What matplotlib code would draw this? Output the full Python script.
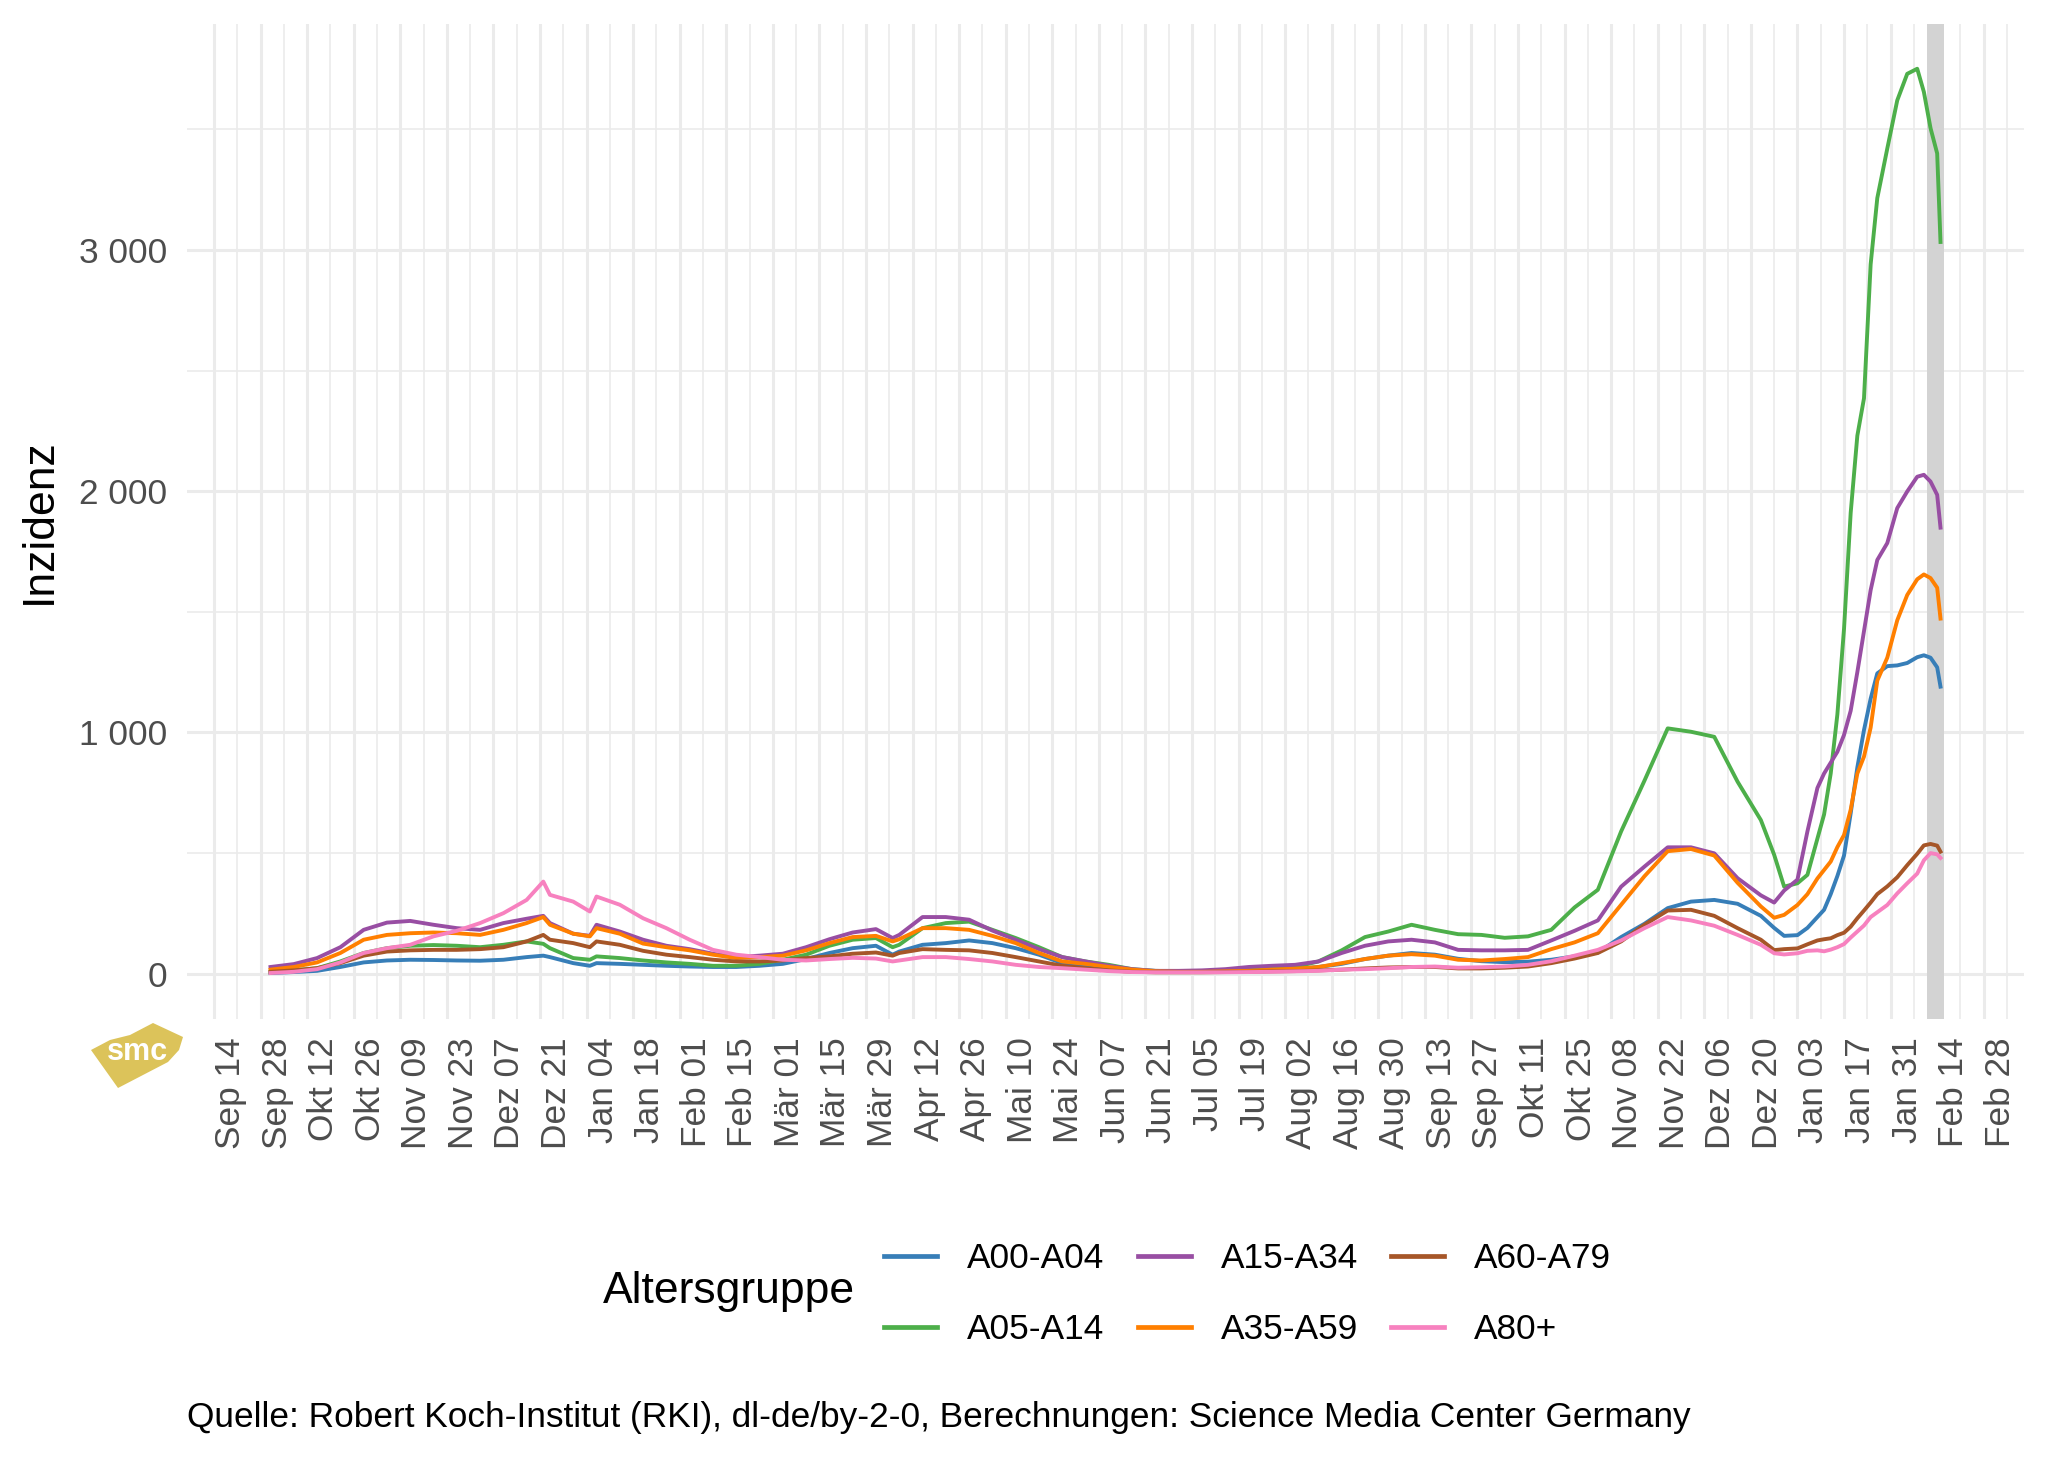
import pandas as pd
import matplotlib
matplotlib.use("Agg")
import matplotlib.pyplot as plt
from matplotlib.patches import Polygon
from matplotlib.lines import Line2D

# --- Data: 7-day incidence per age group ---
dates = [
    "2020-10-01", "2020-10-08", "2020-10-15", "2020-10-22", "2020-10-29", "2020-11-05",
    "2020-11-12", "2020-11-19", "2020-11-26", "2020-12-03", "2020-12-10", "2020-12-17",
    "2020-12-22", "2020-12-24", "2020-12-31", "2021-01-05", "2021-01-07", "2021-01-14",
    "2021-01-21", "2021-01-28", "2021-02-04", "2021-02-11", "2021-02-18", "2021-02-25",
    "2021-03-04", "2021-03-11", "2021-03-18", "2021-03-25", "2021-04-01", "2021-04-06",
    "2021-04-08", "2021-04-15", "2021-04-22", "2021-04-29", "2021-05-06", "2021-05-13",
    "2021-05-20", "2021-05-27", "2021-06-03", "2021-06-10", "2021-06-17", "2021-06-24",
    "2021-07-01", "2021-07-08", "2021-07-15", "2021-07-22", "2021-07-29", "2021-08-05",
    "2021-08-12", "2021-08-19", "2021-08-26", "2021-09-02", "2021-09-09", "2021-09-16",
    "2021-09-23", "2021-09-30", "2021-10-07", "2021-10-14", "2021-10-21", "2021-10-28",
    "2021-11-04", "2021-11-11", "2021-11-18", "2021-11-25", "2021-12-02", "2021-12-09",
    "2021-12-16", "2021-12-23",
    # omicron wave, denser
    "2021-12-27", "2021-12-30", "2022-01-03", "2022-01-06", "2022-01-09", "2022-01-11",
    "2022-01-13", "2022-01-15", "2022-01-17", "2022-01-19", "2022-01-21", "2022-01-23",
    "2022-01-25", "2022-01-27", "2022-01-30", "2022-02-02", "2022-02-05", "2022-02-08",
    "2022-02-10", "2022-02-12", "2022-02-14", "2022-02-15",
]

a00_a04 = [
    3, 7, 12, 28, 47, 55, 58, 57, 55, 54, 58, 69,
    75, 69, 44, 33, 44, 41, 37,
    33, 30, 28, 28, 33, 41, 61, 86, 106, 116,
    79, 92, 120, 127, 138, 127, 106, 79,
    44, 33, 22, 14, 8, 7, 8, 10, 12, 17, 19, 28, 41, 61, 75, 86, 79,
    62, 52, 48, 50, 58, 72, 88, 152, 207, 272, 299, 306, 290, 240,
    190, 157, 160, 190, 235, 265, 330, 405, 490, 665, 855, 1010,
    1140, 1245, 1275, 1278, 1288, 1312, 1320, 1310, 1270, 1190,
]
a05_a14 = [
    6, 14, 23, 51, 86, 106, 116, 119, 116, 110, 120, 134,
    124, 106, 65, 58, 72, 65, 55,
    47, 41, 33, 33, 41, 58, 79, 116, 141, 148,
    110, 120, 189, 210, 216, 182, 148, 110,
    69, 51, 37, 19, 12, 10, 10, 12, 17, 21, 28, 51, 97, 152, 175, 203, 182,
    164, 161, 149, 155, 182, 275, 348, 590, 800, 1017, 1003, 982, 796, 637,
    493, 361, 375, 410, 560, 660, 830, 1075, 1430, 1910, 2230, 2385,
    2940, 3215, 3420, 3620, 3730, 3751, 3655, 3505, 3400, 3033,
]
a15_a34 = [
    28, 40, 65, 110, 182, 212, 219, 203, 189, 182, 210, 228,
    240, 210, 166, 157, 203, 175, 141,
    116, 102, 83, 69, 75, 83, 110, 143, 171, 185,
    148, 161, 235, 235, 224, 179, 141, 102,
    69, 51, 33, 19, 12, 12, 14, 19, 28, 33, 37, 51, 86, 116, 134, 141, 130,
    99, 97, 97, 99, 138, 178, 221, 361, 444, 524, 524, 499, 396, 325,
    295, 345, 390, 590, 770, 830, 875, 920, 990, 1090, 1250, 1420,
    1590, 1715, 1785, 1930, 1999, 2060, 2068, 2040, 1985, 1849,
]
a35_a59 = [
    17, 28, 47, 86, 141, 161, 168, 171, 168, 161, 182, 210,
    235, 203, 166, 155, 189, 166, 125,
    110, 97, 79, 65, 69, 75, 97, 127, 152, 157,
    134, 143, 189, 189, 182, 157, 127, 86,
    51, 41, 28, 17, 10, 8, 8, 10, 12, 17, 21, 28, 44, 61, 75, 81, 75,
    58, 55, 61, 69, 102, 130, 168, 286, 404, 508, 517, 490, 377, 279,
    232, 244, 285, 330, 395, 430, 465, 525, 575, 680, 830, 900,
    1020, 1215, 1310, 1465, 1570, 1635, 1655, 1640, 1600, 1472,
]
a60_a79 = [
    8, 14, 23, 44, 75, 92, 97, 99, 99, 102, 110, 134,
    161, 141, 127, 110, 134, 120, 95,
    79, 69, 58, 51, 51, 55, 65, 72, 83, 88,
    75, 86, 102, 99, 97, 86, 69, 51,
    33, 23, 14, 8, 6, 6, 6, 7, 8, 10, 11, 14, 17, 22, 26, 28, 28,
    22, 22, 25, 30, 44, 63, 86, 134, 203, 262, 265, 240, 189, 141,
    98, 102, 105, 122, 138, 143, 147, 160, 170, 195, 230, 262,
    295, 330, 362, 400, 450, 497, 532, 538, 531, 506,
]
a80_plus = [
    3, 8, 19, 47, 86, 106, 120, 155, 178, 210, 251, 306,
    382, 327, 299, 258, 320, 286, 230,
    189, 141, 99, 79, 69, 58, 55, 61, 66, 63,
    51, 55, 69, 69, 61, 51, 37, 28,
    23, 17, 11, 7, 6, 6, 6, 6, 7, 8, 10, 12, 17, 19, 23, 28, 30,
    25, 27, 30, 37, 52, 75, 99, 138, 189, 235, 221, 199, 161, 120,
    85, 80, 85, 95, 97, 93, 100, 110, 123, 150, 175, 200,
    235, 255, 285, 333, 375, 415, 470, 500, 495, 480,
]

age_groups = ["A00-A04", "A05-A14", "A15-A34", "A35-A59", "A60-A79", "A80+"]
series = [a00_a04, a05_a14, a15_a34, a35_a59, a60_a79, a80_plus]
colors = ["#377EB8", "#4DAF4A", "#984EA3", "#FF7F00", "#A65628", "#F781BF"]

# last days are incomplete (reporting delay) -> grey band
shade_start, shade_end = "2022-02-11", "2022-02-16"

months_de = ["Jan", "Feb", "Mär", "Apr", "Mai", "Jun",
             "Jul", "Aug", "Sep", "Okt", "Nov", "Dez"]
caption = ("Quelle: Robert Koch-Institut (RKI), dl-de/by-2-0, "
           "Berechnungen: Science Media Center Germany")

# --- Style ---
plt.rcParams["font.family"] = ["Liberation Sans", "DejaVu Sans"]
W, H = 2048, 1462
small, big = 12.7, 16
fig = plt.figure(figsize=(W / 200, H / 200), dpi=200)
ax = fig.add_axes([187 / W, 1 - 1019 / H, (2024 - 187) / W, (1019 - 23.5) / H])

x = pd.to_datetime(dates)

ax.axvspan(pd.Timestamp(shade_start), pd.Timestamp(shade_end),
           color="#D3D3D3", lw=0, zorder=1)
for vals, col in zip(series, colors):
    ax.plot(x, vals, color=col, lw=1.4, zorder=2, solid_joinstyle="round")

# ggplot-like expansion (5 % on each side)
span = x.max() - x.min()
ax.set_xlim(x.min() - 0.05 * span, x.max() + 0.05 * span)
ymax = max(max(s) for s in series)
ax.set_ylim(-0.05 * ymax, 1.05 * ymax)

major_x = pd.date_range("2020-09-14", "2022-02-28", freq="14D")
minor_x = pd.date_range("2020-09-21", "2022-03-07", freq="14D")
ax.set_xticks(major_x)
ax.set_xticks(minor_x, minor=True)
ax.set_xticklabels([f"{months_de[d.month - 1]} {d.day:02d}" for d in major_x],
                   rotation=90, ha="left", va="top")

ax.set_yticks([0, 1000, 2000, 3000])
ax.set_yticks([500, 1500, 2500, 3500], minor=True)
ax.set_yticklabels(["0", "1 000", "2 000", "3 000"])

ax.set_axisbelow(True)
ax.grid(which="major", color="#EBEBEB", lw=1.1)
ax.grid(which="minor", color="#EBEBEB", lw=0.6)
for s in ax.spines.values():
    s.set_visible(False)
ax.tick_params(which="both", length=0)
ax.tick_params(axis="x", pad=6.5, labelsize=small, labelcolor="#4D4D4D")
ax.tick_params(axis="y", pad=7.0, labelsize=small, labelcolor="#4D4D4D")

fig.text(39 / W, 1 - 521 / H, "Inzidenz", rotation=90, ha="center", va="center",
         fontsize=big)

# legend: title on the left, 3 columns x 2 rows
handles = [Line2D([], [], color=c, lw=1.7) for c in colors]
fig.legend(handles, age_groups, ncol=3, loc="center left",
           bbox_to_anchor=(884 / W, 1 - 1294 / H), frameon=False,
           fontsize=small, handlelength=1.5, handletextpad=0.85,
           columnspacing=0.95, labelspacing=1.08, borderpad=0, borderaxespad=0)
fig.text(603 / W, 1 - 1292 / H, "Altersgruppe", ha="left", va="center",
         fontsize=big)

fig.text(187 / W, 1 - 1417 / H, caption, ha="left", va="center", fontsize=small)

# small smc logo bottom left
logo = [(91, 1050), (110, 1040), (130, 1035), (153, 1023), (183, 1037),
        (179, 1050), (168, 1062), (118, 1088)]
fig.add_artist(Polygon([(px / W, 1 - py / H) for px, py in logo],
                       closed=True, facecolor="#DCC35A", edgecolor="none",
                       transform=fig.transFigure))
fig.text(137 / W, 1 - 1052 / H, "smc", ha="center", va="center",
         fontsize=11, color="white", fontweight="bold")

fig.savefig("out.png", dpi=200)
